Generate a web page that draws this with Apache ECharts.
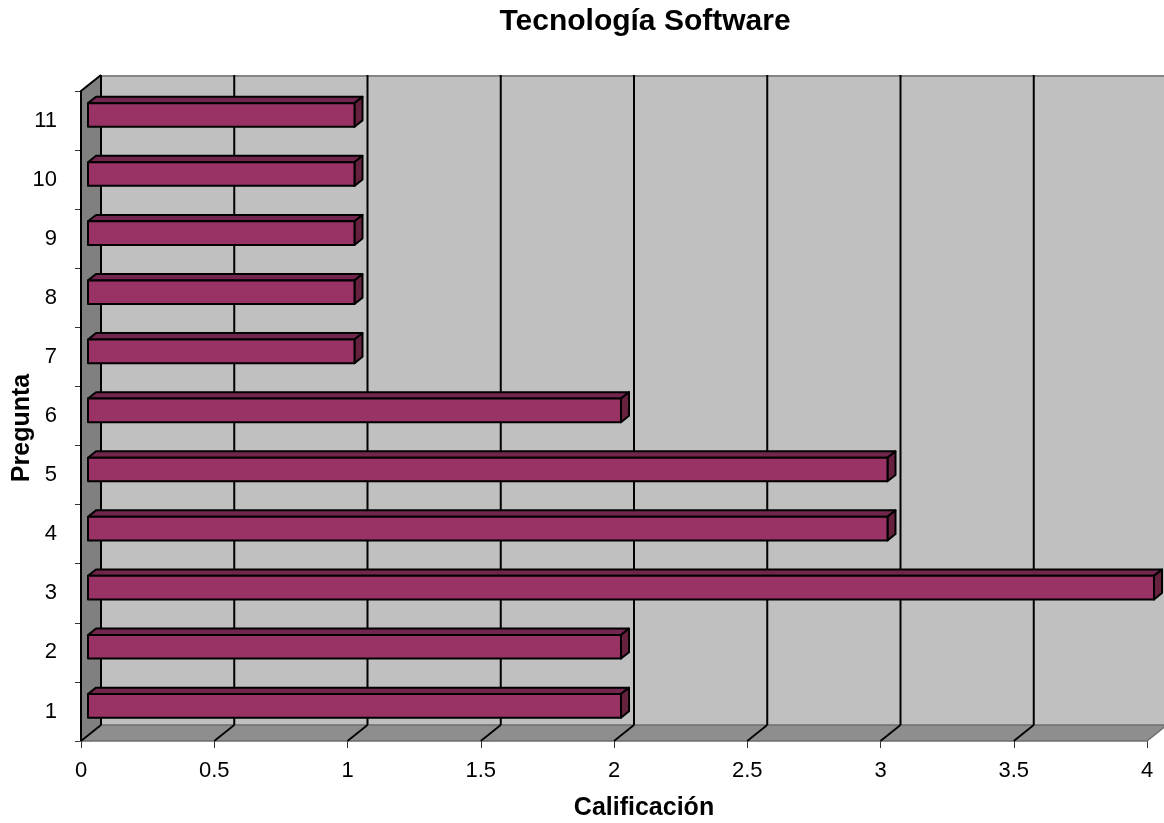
<!DOCTYPE html>
<html>
<head>
<meta charset="utf-8">
<script src="https://cdn.jsdelivr.net/npm/echarts@6/dist/echarts.min.js"></script>
<style>
html,body{margin:0;padding:0;background:#fff;}
#chart{width:1164px;height:823px;}
</style>
</head>
<body>
<div id="chart"></div>
<script>
const categories = ['1','2','3','4','5','6','7','8','9','10','11'];
const values = [2, 2, 4, 3, 3, 2, 1, 1, 1, 1, 1];
const xTicks = [0, 0.5, 1, 1.5, 2, 2.5, 3, 3.5, 4];
const titleText = 'Tecnología Software';
const xName = 'Calificación';
const yName = 'Pregunta';

const DX = 20, DY = -16;      // depth offset of back wall
const F = 0.35, BD = 0.4;     // bar front position / bar depth fraction
const FONT = '"Liberation Sans", Arial, sans-serif';

const chart = echarts.init(document.getElementById('chart'), null, {renderer: 'canvas'});

function bgRender(params, api) {
  const cs = params.coordSys;
  const left = cs.x, top = cs.y, bottom = cs.y + cs.height;
  const right = api.coord([xTicks[xTicks.length - 1], 0])[0];
  const children = [];
  children.push({type: 'polygon', shape: {points: [[left+DX, top+DY],[right+DX+4, top+DY],[right+DX+4, bottom+DY],[left+DX, bottom+DY]]},
    style: {fill: '#c0c0c0', stroke: null}});
  children.push({type: 'line', shape: {x1: left+DX, y1: top+DY+1, x2: right+DX+4, y2: top+DY+1}, style: {stroke: '#858585', lineWidth: 2}});
  children.push({type: 'polygon', shape: {points: [[left, bottom],[right, bottom],[right+DX, bottom+DY],[left+DX, bottom+DY]]},
    style: {fill: '#8e8e8e', stroke: '#6e6e6e', lineWidth: 1.5}});
  children.push({type: 'polygon', shape: {points: [[left, top],[left+DX, top+DY],[left+DX, bottom+DY],[left, bottom]]},
    style: {fill: '#808080', stroke: null}});
  xTicks.forEach(function (t) {
    const x = api.coord([t, 0])[0];
    if (t !== xTicks[xTicks.length - 1]) {
      children.push({type: 'line', shape: {x1: x+DX, y1: top+DY, x2: x+DX, y2: bottom+DY}, style: {stroke: '#000', lineWidth: 2}});
      children.push({type: 'line', shape: {x1: x+DX, y1: bottom+DY, x2: x, y2: bottom}, style: {stroke: '#000', lineWidth: 1.8}});
    }
  });
  children.push({type: 'polyline', shape: {points: [[left+DX, top+DY],[left, top],[left, bottom]]}, style: {stroke: '#000', lineWidth: 2, fill: null}});
  return {type: 'group', children: children};
}

function barRender(params, api) {
  const v = api.value(0), i = api.value(1);
  const x0 = api.coord([0, i])[0] + F*DX;
  const p = api.coord([v, i]);
  const x1 = p[0] + F*DX;
  const band = api.size([0, 1])[1];
  const h = band * 0.4;
  const y0 = p[1] + F*DY - h/2;
  const bdx = BD*DX, bdy = BD*DY;
  const st = {stroke: '#000', lineWidth: 2, lineJoin: 'round'};
  return {type: 'group', children: [
    {type: 'polygon', shape: {points: [[x0, y0],[x1, y0],[x1+bdx, y0+bdy],[x0+bdx, y0+bdy]]}, style: Object.assign({fill: '#73264d'}, st)},
    {type: 'polygon', shape: {points: [[x1, y0],[x1+bdx, y0+bdy],[x1+bdx, y0+h+bdy],[x1, y0+h]]}, style: Object.assign({fill: '#66213f'}, st)},
    {type: 'rect', shape: {x: x0, y: y0, width: x1-x0, height: h}, style: Object.assign({fill: '#993366'}, st)}
  ]};
}

const option = {
  backgroundColor: '#fff',
  animation: false,
  grid: {left: 81, right: 17, top: 91, bottom: 82, containLabel: false},
  xAxis: {type: 'value', min: 0, max: 4, interval: 0.5,
    axisLine: {show: false},
    axisTick: {show: true, length: 7, lineStyle: {color: '#333', width: 1}},
    axisLabel: {fontFamily: FONT, fontSize: 22, color: '#000', margin: 19},
    splitLine: {show: false}},
  yAxis: {type: 'category', data: categories,
    axisLine: {show: false},
    axisTick: {show: true, length: 6, inside: false, lineStyle: {color: '#333', width: 1}},
    axisLabel: {fontFamily: FONT, fontSize: 22, color: '#000', margin: 24},
    splitLine: {show: false}},
  graphic: [
    {type: 'text', x: 645, y: 22, style: {text: titleText, font: 'bold 30px ' + FONT, fill: '#000', align: 'center', verticalAlign: 'middle'}},
    {type: 'text', x: 644, y: 808, style: {text: xName, font: 'bold 25px ' + FONT, fill: '#000', align: 'center', verticalAlign: 'middle'}},
    {type: 'text', x: 22, y: 428, rotation: Math.PI/2, style: {text: yName, font: 'bold 25px ' + FONT, fill: '#000', align: 'center', verticalAlign: 'middle'}}
  ],
  series: [
    {type: 'custom', z: 1, clip: false, renderItem: bgRender, data: [[0, 0]], encode: {x: 0, y: 1}, silent: true},
    {type: 'custom', z: 5, clip: false, renderItem: barRender,
      data: values.map(function (v, i) { return [v, i]; }), encode: {x: 0, y: 1}}
  ]
};
chart.setOption(option);
</script>
</body>
</html>
